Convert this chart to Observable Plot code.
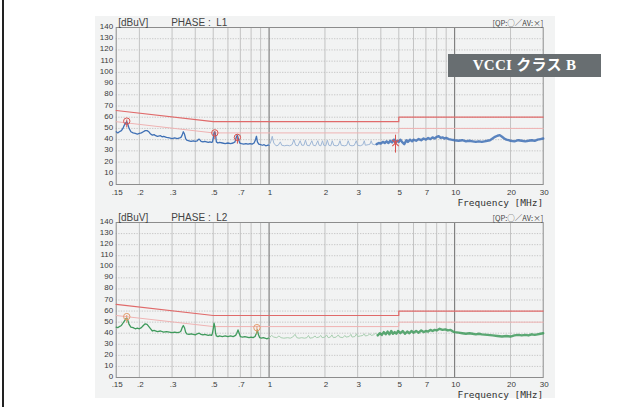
<!DOCTYPE html>
<html>
<head>
<meta charset="utf-8">
<script src="https://cdn.jsdelivr.net/npm/d3@7"></script>
<script src="https://cdn.jsdelivr.net/npm/@observablehq/plot@0.6"></script>
<style>
  html, body { margin: 0; padding: 0; background: #ffffff; }
  body { width: 639px; height: 407px; position: relative; overflow: hidden; font-family: "Liberation Sans", Arial, sans-serif; }
  #edge { position: absolute; left: 2px; top: 0; width: 2px; height: 407px; background: #222; }
  #paper { position: absolute; left: 95px; top: 16px; width: 460px; height: 382px; background: #f2f3f3; }
  .panel { position: absolute; left: 0; }
  .panel svg { overflow: visible; }
  #badge { position: absolute; left: 448px; top: 54px; width: 153px; height: 23px; background: #686e71; color: #fff;
           font: bold 15px "Liberation Serif", "DejaVu Serif", "Noto Sans CJK JP", serif; line-height: 23px; text-align: center; letter-spacing: 0.3px; }
</style>
</head>
<body>
<div id="edge"></div>
<div id="paper">
  <div class="panel" id="p1" style="top:0px"></div>
  <div class="panel" id="p2" style="top:192px"></div>
</div>
<div id="badge">VCCI クラス B</div>
<script>
// ---- axis ticks ----
const xTicks = [0.15, 0.2, 0.3, 0.5, 0.7, 1, 2, 3, 5, 7, 10, 20, 30];
const xTickLabels = [".15", ".2", ".3", ".5", ".7", "1", "2", "3", "5", "7", "10", "20", "30"];
const yTicks = [0, 10, 20, 30, 40, 50, 60, 70, 80, 90, 100, 110, 120, 130, 140];
const gridMinor = [0.2, 0.3, 0.4, 0.5, 0.6, 0.7, 0.8, 0.9, 2, 3, 4, 5, 6, 7, 8, 9, 20];
const gridMajor = [1, 10];
const gridY = [10, 20, 30, 40, 50, 60, 70, 80, 90, 100, 110, 120, 130];

// ---- VCCI class B limits ----
const limitFreq = [0.15, 0.5, 5, 5, 30];
const qpLimit = [66, 56, 56, 60, 60];
const avLimit = [56, 46, 46, 50, 50];

// ---- L1 trace (dBuV) ----
const l1LowFreq = [0.150,0.153,0.156,0.160,0.163,0.166,0.169,0.171,0.173,0.176,0.180,0.185,0.190,0.195,0.200,0.205,0.210,0.215,0.220,0.225,0.230,0.235,0.240,0.245,0.250,0.260,0.265,0.270,0.280,0.290,0.300,0.310,0.320,0.330,0.335,0.340,0.345,0.350,0.355,0.360,0.370,0.380,0.390,0.400,0.410,0.415,0.420,0.425,0.430,0.440,0.450,0.460,0.470,0.480,0.490,0.495,0.500,0.505,0.510,0.515,0.520,0.530,0.540,0.560,0.580,0.600,0.620,0.640,0.655,0.665,0.675,0.685,0.695,0.710,0.730,0.750,0.770,0.790,0.810,0.830,0.845,0.855,0.865,0.880,0.900,0.920,0.940,0.960,0.980,1.000];
const l1LowLevel = [47,46,47,48,50,53,55,56,54,50,47,46,45.5,45,45.5,46,47,48,48,47,45,44,44.5,43.5,43,43.5,42.5,43,42,41.5,41,41.5,41,41.5,42,44,47,45,41,39.5,39,38.5,39,38.5,39,40,40.5,39.5,38.5,38,38.5,38,37.5,38,37.5,38,41,46,47,44,38,37,37.5,37,36.5,37,36.5,37,38,42,44,40,37,36.5,36,36.5,36,36.5,36,37,40,43,38,36,35.5,35,35.5,34.5,35,35];
const l1MidFreq = [1.00,1.02,1.04,1.06,1.09,1.12,1.15,1.17,1.21,1.25,1.29,1.33,1.36,1.39,1.43,1.47,1.50,1.54,1.57,1.60,1.65,1.70,1.73,1.78,1.83,1.86,1.90,1.94,1.97,2.02,2.06,2.10,2.15,2.19,2.23,2.30,2.36,2.41,2.45,2.55,2.62,2.67,2.72,2.80,2.88,2.95,3.00,3.10,3.20,3.26,3.30,3.42,3.50,3.55,3.60,3.70,3.80];
const l1MidLevel = [35,38,43,37,34.5,35,38,35,34.5,35,34.5,35.5,40,35,34.5,39,35,35,39.5,35,34.5,39,35,34.5,39,35,34.5,39,35,34.5,39.5,35,34.5,39,35,34.5,35,39,35,34.5,35,39,35,34.5,35,39,35,34.5,35.5,39,35,35.5,36,39,36,35.5,36];
const l1HighFreq = [3.8,3.9,4.0,4.1,4.2,4.3,4.4,4.5,4.6,4.7,4.8,4.9,5.0,5.1,5.2,5.35,5.5,5.6,5.75,5.9,6.0,6.2,6.4,6.6,6.8,7.0,7.2,7.4,7.6,7.8,8.0,8.2,8.4,8.6,8.8,9.0,9.3,9.6,10,10.5,11,11.5,12,12.5,13,13.5,14,14.5,15,15.5,16,16.5,17,17.5,18,18.5,19,19.5,20,21,22,23,24,25,26,27,28,29,30];
const l1HighLevel = [36,37,36.5,38,37,38.5,37,39,37.5,40,37,39,38,40,38,36,39.5,38,40,38.5,40,39,40.5,39.5,41,40,41.5,40.5,42,41,42.5,43,41.5,42,41,41.5,40.5,40,39.5,39,39.5,38.5,39,38.5,38,38.5,38,38.5,39,39.5,41,42.5,43.5,44,42.5,41,40,39.5,39,38.5,39.5,39,38.5,39,39.5,39,40,40.5,41];
const l1QpFreq = [0.171, 0.51, 0.675];
const l1QpLevel = [56.5, 46, 42];
const l1AvFreq = [4.8];
const l1AvLevel = [37];

// ---- L2 trace (dBuV) ----
const l2LowFreq = [0.150,0.153,0.156,0.160,0.163,0.166,0.169,0.171,0.173,0.176,0.180,0.185,0.190,0.195,0.200,0.205,0.210,0.215,0.220,0.225,0.230,0.235,0.240,0.250,0.260,0.270,0.280,0.290,0.300,0.310,0.320,0.330,0.335,0.340,0.345,0.350,0.355,0.360,0.370,0.380,0.390,0.400,0.410,0.420,0.430,0.440,0.450,0.460,0.470,0.480,0.490,0.495,0.500,0.505,0.510,0.515,0.520,0.530,0.540,0.560,0.580,0.600,0.620,0.640,0.660,0.670,0.680,0.690,0.700,0.720,0.740,0.760,0.780,0.800,0.820,0.840,0.855,0.865,0.875,0.890,0.910,0.930,0.950,0.970,1.000];
const l2LowLevel = [45.5,45,46,47,49,51,53,53.5,52,48,45.5,45,44,44.5,44,45,47,48.5,48,46,44,42,42.5,41.5,42,41,41.5,41,40.5,41,40.5,41,42,45,47,45,41,39.5,39,39.5,39,38.5,39.5,40,39,38.5,39,38.5,38,38.5,38,40,44,49,46,40,37.5,37,37.5,37,37.5,37,37.5,37,38,40,43,40,37,36.5,37,36.5,36,36.5,36,37,40,43,39,36,35.5,36,35.5,35,35.5];
const l2MidFreq = [1.00,1.03,1.06,1.10,1.13,1.16,1.20,1.26,1.30,1.34,1.38,1.41,1.45,1.50,1.55,1.60,1.63,1.66,1.72,1.77,1.80,1.86,1.90,1.93,2.00,2.04,2.08,2.14,2.18,2.22,2.30,2.36,2.40,2.50,2.56,2.60,2.70,2.76,2.80,2.90,2.96,3.00,3.10,3.20,3.26,3.30,3.40,3.50,3.55,3.65,3.75,3.85];
const l2MidLevel = [35.5,38,36.5,36,37.5,36,35.5,36,35.5,36.5,39,36,35.5,36,35.5,36,38,35.5,36,37.5,36,36.5,38,36,36.5,38.5,36,36.5,38.5,36,36.5,38.5,36.5,36,38,36.5,37,39,36.5,37,39.5,37,37.5,38,39.5,37.5,38,39.5,38,38.5,40,38];
const l2HighFreq = [3.85,3.95,4.05,4.15,4.25,4.35,4.45,4.55,4.65,4.75,4.85,4.95,5.1,5.25,5.4,5.55,5.7,5.85,6.0,6.2,6.4,6.6,6.8,7.0,7.2,7.4,7.6,7.8,8.0,8.3,8.6,8.9,9.2,9.5,9.8,10,10.5,11,11.5,12,12.5,13,13.5,14,15,16,17,18,19,20,21,22,23,24,25,26,27,28,29,30];
const l2HighLevel = [38,40,38.5,41,39,41.5,39,42,39.5,41,39.5,42,40,42,39.5,41.5,40,42,40.5,42,40.5,42.5,41,42,41.5,43,42,43,42.5,44,43,43.5,42.5,43,41.5,41,40.5,40,39.5,40,39.5,39,39.5,39,38.5,38,37.5,37,37.5,37,38,38.5,38,38.5,38,39,38.5,39,39.5,40];
const l2QpFreq = [0.171, 0.86];
const l2QpLevel = [55, 45];
const l2AvFreq = [];
const l2AvLevel = [];

const zip = (f, v) => f.map((x, i) => ({f: x, v: v[i]}));
const xTickData = xTicks.map((t, i) => ({t, label: xTickLabels[i]}));

function panel({phase, low, mid, high, qp, av, main, faded, mark, mt, mb, h, tickDy, freqDy}) {
  const limQP = zip(limitFreq, qpLimit);
  const limAV = zip(limitFreq, avLimit);
  return Plot.plot({
    width: 460, height: h,
    marginLeft: 20.7, marginRight: 12.3, marginTop: mt, marginBottom: mb,
    x: {type: "log", domain: [0.15, 30], axis: null},
    y: {domain: [0, 140], axis: null},
    style: {background: "transparent", fontFamily: "'Liberation Sans', Arial, sans-serif", fontSize: "8px", color: "#3a3a3a", overflow: "visible"},
    marks: [
      Plot.ruleY(gridY, {stroke: "#b9b9b9", strokeWidth: 0.8, strokeDasharray: "1.2,1.4"}),
      Plot.ruleX(gridMinor, {stroke: "#bdbdbd", strokeWidth: 0.9}),
      Plot.ruleX(gridMajor, {stroke: "#6d6d6d", strokeWidth: 1}),
      Plot.frame({stroke: "#8c8c8c", strokeWidth: 1}),
      Plot.text(xTickData, {x: "t", text: "label", frameAnchor: "bottom", dx: 1, dy: tickDy, lineAnchor: "middle", fontSize: 8, fill: "#3a3a3a"}),
      Plot.text(yTicks, {y: d => d, text: d => String(d), frameAnchor: "left", dx: -3, dy: -1, textAnchor: "end", lineAnchor: "middle", fontSize: 8, fill: "#3a3a3a"}),
      Plot.line(limAV, {x: "f", y: "v", stroke: "#efb3b3", strokeWidth: 1}),
      Plot.line(limQP, {x: "f", y: "v", stroke: "#e06a6a", strokeWidth: 1.2}),
      Plot.line(low, {x: "f", y: "v", stroke: main, strokeWidth: 1.3, strokeLinejoin: "round"}),
      Plot.line(mid, {x: "f", y: "v", stroke: faded, strokeWidth: 1, strokeLinejoin: "round"}),
      Plot.line(high, {x: "f", y: "v", stroke: main, strokeWidth: 2.4, strokeLinejoin: "round", strokeOpacity: 0.85}),
      Plot.ruleX(qp, {x: "f", y1: d => d.v - 6, y2: d => d.v + 1, stroke: mark, strokeWidth: 1}),
      Plot.dot(qp, {x: "f", y: "v", r: 3.2, stroke: mark, strokeWidth: 1, fill: "none"}),
      Plot.ruleX(av, {x: "f", y1: d => d.v - 9, y2: d => d.v + 7, stroke: mark, strokeWidth: 1}),
      Plot.dot(av, {x: "f", y: "v", r: 3, symbol: "times", stroke: mark, strokeWidth: 1.1}),
      Plot.text(["[dBuV]"], {frameAnchor: "top-left", dx: 2, dy: -5, textAnchor: "start", lineAnchor: "middle", fontSize: 10, fill: "#444"}),
      Plot.text([`PHASE :  ${phase}`], {frameAnchor: "top-left", dx: 55, dy: -5, textAnchor: "start", lineAnchor: "middle", fontSize: 10, fill: "#444"}),
      Plot.text(["[QP:○／AV:×]"], {frameAnchor: "top-right", dx: 0, dy: -4, textAnchor: "end", lineAnchor: "middle", fontSize: 7.5, fill: "#444", fontFamily: "'Noto Sans CJK JP', sans-serif"}),
      Plot.text(["Frequency [MHz]"], {frameAnchor: "bottom-right", dx: 0, dy: freqDy, textAnchor: "end", lineAnchor: "middle", fontSize: 9.5, fill: "#333", fontFamily: "'DejaVu Sans Mono', monospace", letterSpacing: "-0.3px"})
    ]
  });
}

document.getElementById("p1").append(panel({
  phase: "L1",
  low: zip(l1LowFreq, l1LowLevel), mid: zip(l1MidFreq, l1MidLevel), high: zip(l1HighFreq, l1HighLevel),
  qp: zip(l1QpFreq, l1QpLevel), av: zip(l1AvFreq, l1AvLevel),
  main: "#3f70b5", faded: "#9fb7d6", mark: "#d9534f",
  h: 192, mt: 11, mb: 24, tickDy: 8, freqDy: 18.5
}));
document.getElementById("p2").append(panel({
  phase: "L2",
  low: zip(l2LowFreq, l2LowLevel), mid: zip(l2MidFreq, l2MidLevel), high: zip(l2HighFreq, l2HighLevel),
  qp: zip(l2QpFreq, l2QpLevel), av: zip(l2AvFreq, l2AvLevel),
  main: "#3f9a5c", faded: "#a9cfb1", mark: "#e39a6a",
  h: 190, mt: 14, mb: 21, tickDy: 6.5, freqDy: 17
}));
</script>
</body>
</html>
